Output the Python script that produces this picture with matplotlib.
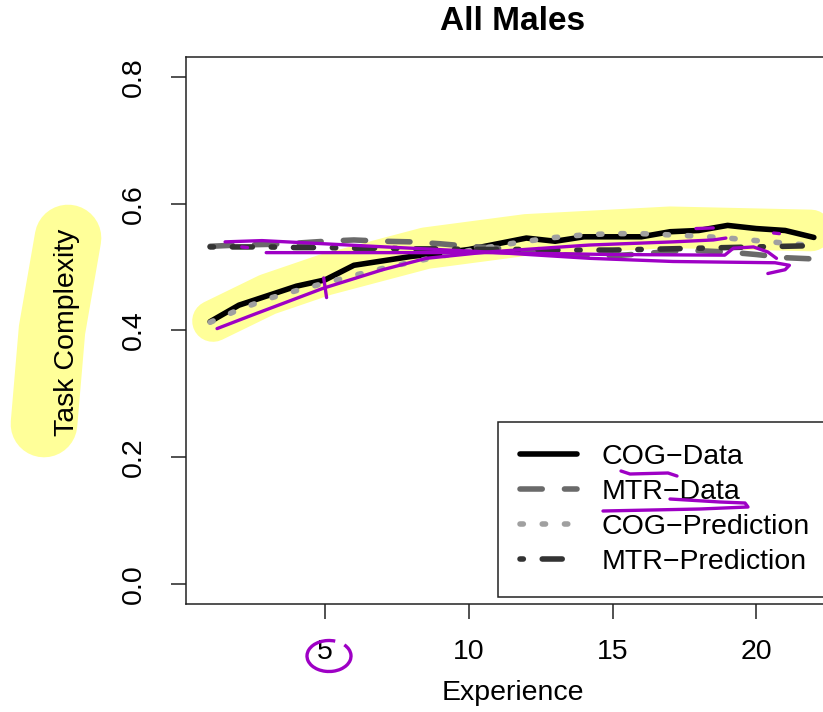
import matplotlib
matplotlib.use("Agg")
import matplotlib.pyplot as plt
from matplotlib.lines import Line2D
from matplotlib.patches import Arc
import numpy as np

plt.rcParams['font.family'] = ['Liberation Sans', 'DejaVu Sans']

# ---------------- data ----------------
experience = list(range(1, 23))
cog_data = [0.414, 0.440, 0.455, 0.470, 0.480, 0.503, 0.510, 0.517, 0.522, 0.528, 0.537,
            0.546, 0.541, 0.548, 0.548, 0.548, 0.556, 0.558, 0.566, 0.561, 0.558, 0.547]
mtr_data = [0.533, 0.535, 0.536, 0.538, 0.541, 0.543, 0.541, 0.540, 0.537, 0.533, 0.530,
            0.524, 0.520, 0.518, 0.518, 0.521, 0.525, 0.526, 0.524, 0.520, 0.515, 0.513]
cog_pred = [0.413, 0.433, 0.450, 0.463, 0.475, 0.487, 0.498, 0.508, 0.517, 0.526, 0.534,
            0.541, 0.547, 0.551, 0.553, 0.553, 0.551, 0.549, 0.546, 0.542, 0.538, 0.534]
mtr_pred = [0.532, 0.532, 0.532, 0.531, 0.531, 0.530, 0.530, 0.529, 0.529, 0.528, 0.528,
            0.528, 0.527, 0.527, 0.527, 0.528, 0.529, 0.530, 0.531, 0.532, 0.533, 0.534]
series_labels = ["COG\u2212Data", "MTR\u2212Data", "COG\u2212Prediction", "MTR\u2212Prediction"]
x_ticks = [5, 10, 15, 20]
y_ticks = [0.0, 0.2, 0.4, 0.6, 0.8]
title = "All Males"
x_label = "Experience"
y_label = "Task Complexity"

# hand-drawn annotation strokes (data coordinates)
hl_x = [1.1, 3.0, 5.0, 8.5, 12.0, 17.0, 21.9]
hl_y = [0.415, 0.457, 0.488, 0.530, 0.551, 0.563, 0.558]
pa_x = [1.24, 2.5, 4.95, 7.0, 8.52, 10.65, 14.2, 17.1, 18.5, 18.94]
pa_y = [0.403, 0.425, 0.467, 0.496, 0.514, 0.524, 0.535, 0.540, 0.543, 0.546]
pb_x = [1.52, 2.8, 7.1, 10.65, 14.2, 17.1, 20.65, 21.15, 21.0, 20.4]
pb_y = [0.540, 0.542, 0.532, 0.524, 0.514, 0.509, 0.507, 0.503, 0.496, 0.490]
pc_x = [2.95, 6.0, 10.65, 15.0, 18.9, 19.2, 19.9, 20.4, 20.7]
pc_y = [0.523, 0.523, 0.523, 0.520, 0.519, 0.530, 0.532, 0.524, 0.514]
small_x = [[4.95, 5.05], [2.1, 2.3], [17.9, 18.5], [20.6, 20.8]]
small_y = [[0.483, 0.452], [0.532, 0.531], [0.561, 0.562], [0.554, 0.553]]

W, H = 823, 712
fig = plt.figure(figsize=(W / 100, H / 100), dpi=100)
L, R, T, B = 186, 838, 57, 604
ax = fig.add_axes([L / W, 1 - B / H, (R - L) / W, (B - T) / H])
ax.set_xlim(0.16, 22.84)
ax.set_ylim(-0.032, 0.832)

FS = 20.5
LW = 4
YEL = '#FFFF99'
PUR = '#9E00C5'

# highlight behind data
ax.plot(hl_x, hl_y, color=YEL, lw=30, solid_capstyle='round', solid_joinstyle='round', zorder=1)

styles = [
    dict(color='black', linestyle='-'),
    dict(color='#6a6a6a', linestyle=(0, (4, 4))),
    dict(color='#a0a0a0', linestyle=(0, (0.6, 3.4))),
    dict(color='#333333', linestyle=(0, (0.6, 3.4, 3.6, 3.4))),
]
series = [cog_data, mtr_data, cog_pred, mtr_pred]
handles = []
for ys, st in zip(series, styles):
    ax.plot(experience, ys, lw=LW, dash_capstyle='round', solid_capstyle='round',
            zorder=2, **st)
    handles.append(Line2D([], [], lw=LW, dash_capstyle='round', solid_capstyle='round', **st))

# purple strokes
for xs, ys in [(pa_x, pa_y), (pb_x, pb_y), (pc_x, pc_y)] + list(zip(small_x, small_y)):
    ax.plot(xs, ys, color=PUR, lw=2.4, solid_capstyle='round', solid_joinstyle='round', zorder=5)

ax.set_xticks(x_ticks)
ax.set_xticklabels([str(v) for v in x_ticks], fontsize=FS)
ax.set_yticks(y_ticks)
ax.set_yticklabels([f"{v:.1f}" for v in y_ticks], fontsize=FS, rotation=90, va='center')
ax.tick_params(axis='both', length=11, width=1.1, color='#222222')
ax.tick_params(axis='x', pad=14)
ax.tick_params(axis='y', pad=17)
for sp in ax.spines.values():
    sp.set_linewidth(1.1)
    sp.set_color('#222222')

leg = ax.legend(handles, series_labels, loc='lower left',
                bbox_to_anchor=(498 / W, 1 - 597 / H), bbox_transform=fig.transFigure,
                borderaxespad=0, fancybox=False, framealpha=1, edgecolor='#222222',
                prop={'size': FS}, handlelength=2.0, handletextpad=0.88,
                labelspacing=0.32, borderpad=0.76)
leg.get_frame().set_linewidth(1.1)
leg.set_zorder(4)

fig.text(513 / W, 1 - 22 / H, title, ha='center', va='center', fontsize=24, fontweight='bold')
fig.text(513 / W, 1 - 693 / H, x_label, ha='center', va='center', fontsize=FS)
# y label highlight
fig.add_artist(Line2D([68 / W, 52 / W, 44 / W], [1 - 238 / H, 1 - 330 / H, 1 - 424 / H],
                      transform=fig.transFigure, color=YEL, lw=48,
                      solid_capstyle='round', solid_joinstyle='round', zorder=1))
fig.text(67 / W, 1 - 332 / H, y_label, ha='center', va='center', fontsize=FS, rotation=90, zorder=3)

# purple marks outside the data area
fig.add_artist(Arc((329 / W, 1 - 656 / H), 44 / W, 31 / H, theta1=70, theta2=400,
                   transform=fig.transFigure, color=PUR, lw=2.4, zorder=6))
fig.add_artist(Line2D([621 / W, 630 / W, 668 / W, 677 / W], [1 - 471 / H, 1 - 474 / H, 1 - 473 / H, 1 - 476 / H],
                      transform=fig.transFigure, color=PUR, lw=2.4, solid_capstyle='round', zorder=6))
fig.add_artist(Line2D([670 / W, 720 / W, 745 / W, 748 / W, 700 / W, 603 / W],
                      [1 - 499 / H, 1 - 502 / H, 1 - 503 / H, 1 - 507 / H, 1 - 509 / H, 1 - 511 / H],
                      transform=fig.transFigure, color=PUR, lw=2.4, solid_capstyle='round',
                      solid_joinstyle='round', zorder=6))

fig.savefig("out.png", dpi=100)
